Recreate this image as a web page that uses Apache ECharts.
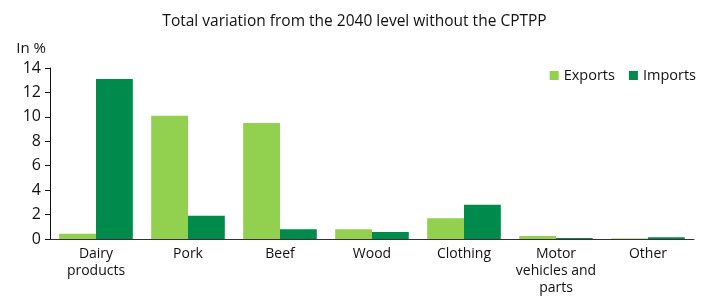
<!DOCTYPE html>
<html>
<head>
<meta charset="utf-8">
<script src="https://cdn.jsdelivr.net/npm/echarts@6/dist/echarts.min.js"></script>
<style>
  body { margin: 0; background: #fff; }
  #chart { width: 709px; height: 297px; }
</style>
</head>
<body>
<div id="chart"></div>
<script>
const categories = ['Dairy\nproducts', 'Pork', 'Beef', 'Wood', 'Clothing', 'Motor\nvehicles and\nparts', 'Other'];
const exportsData = [0.43, 10.1, 9.5, 0.8, 1.7, 0.25, 0.05];
const importsData = [13.1, 1.9, 0.8, 0.57, 2.8, 0.08, 0.15];
const yTicks = [0, 2, 4, 6, 8, 10, 12, 14];

const font = '"Open Sans", "Noto Sans", sans-serif';
const ink = '#111';
const chart = echarts.init(document.getElementById('chart'));

chart.setOption({
  animation: false,
  textStyle: { fontFamily: font, color: ink },
  title: {
    text: 'Total variation from the 2040 level without the CPTPP',
    left: 'center',
    top: 9,
    textStyle: { fontFamily: font, fontSize: 15.5, fontWeight: 'normal', color: ink }
  },
  legend: {
    right: 8,
    top: 63,
    itemWidth: 9,
    itemHeight: 9,
    itemGap: 14,
    icon: 'rect',
    textStyle: { fontFamily: font, fontSize: 14.5, color: ink },
    data: ['Exports', 'Imports']
  },
  grid: { left: 50, right: 15, top: 68, bottom: 57 },
  xAxis: {
    type: 'category',
    data: categories,
    axisLine: { lineStyle: { color: '#333', width: 1 } },
    axisTick: { show: false },
    axisLabel: { fontFamily: font, fontSize: 14, color: ink, lineHeight: 17, margin: 7, interval: 0 }
  },
  yAxis: {
    type: 'value',
    min: yTicks[0],
    max: yTicks[yTicks.length - 1],
    interval: 2,
    name: 'In %',
    nameLocation: 'end',
    nameGap: 12,
    nameTextStyle: { fontFamily: font, fontSize: 15, color: ink, align: 'right', padding: [0, 4, 0, 0] },
    splitLine: { show: false },
    axisLine: { show: true, lineStyle: { color: ink } },
    axisTick: { show: true, length: 5, lineStyle: { color: ink } },
    axisLabel: { fontFamily: font, fontSize: 16, color: ink, margin: 9 }
  },
  series: [
    {
      name: 'Exports',
      type: 'bar',
      data: exportsData,
      itemStyle: { color: '#92d050' },
      barGap: '0%',
      barCategoryGap: '20%'
    },
    {
      name: 'Imports',
      type: 'bar',
      data: importsData,
      itemStyle: { color: '#008a4b' }
    }
  ]
});
</script>
</body>
</html>
